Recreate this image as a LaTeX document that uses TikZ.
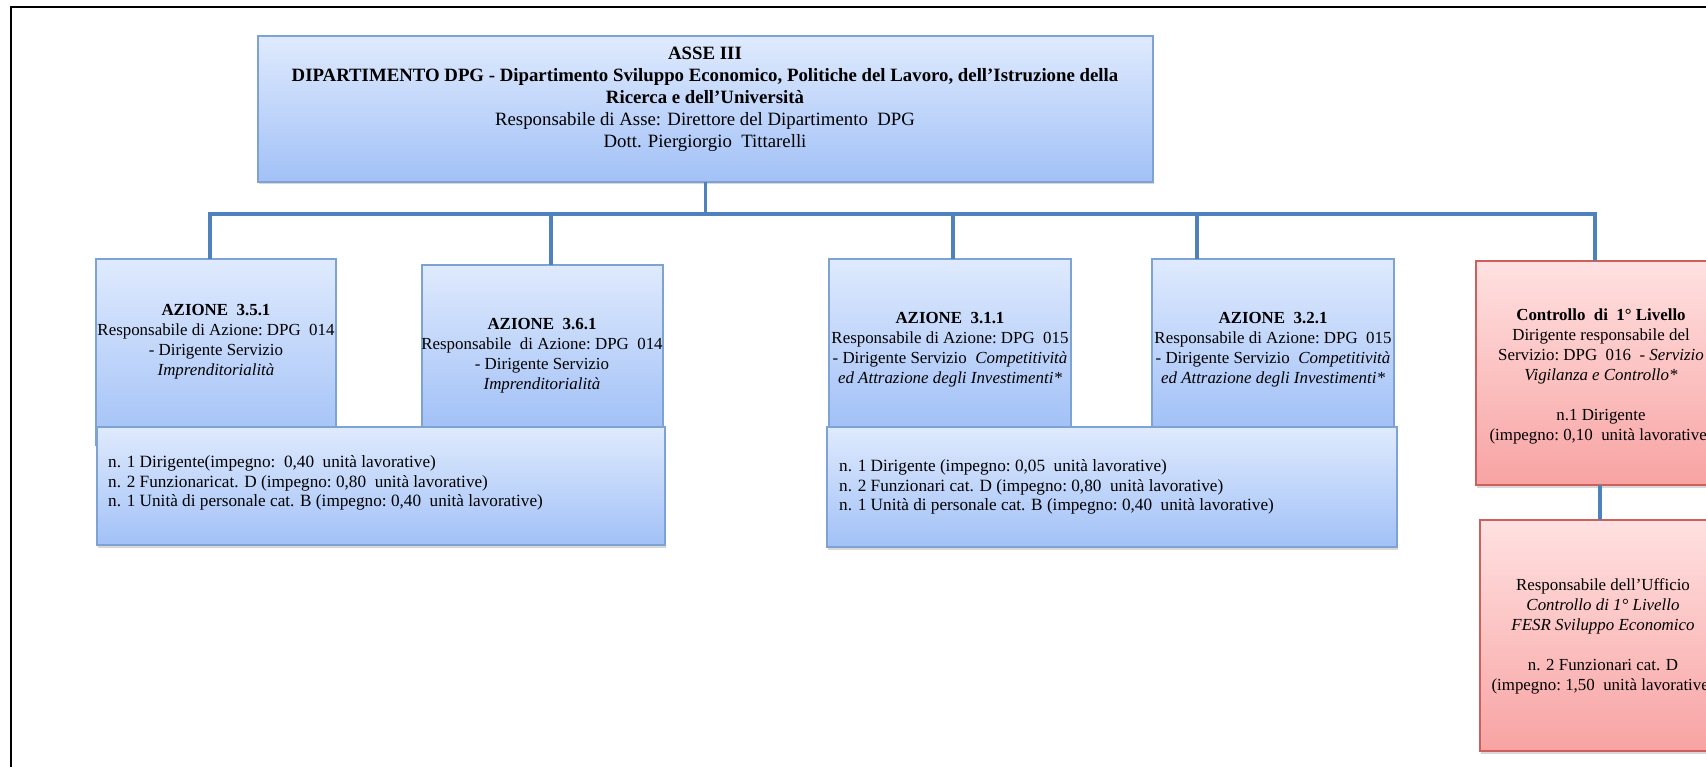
\documentclass[tikz,border=0pt]{standalone}
\usepackage{fontspec}
\setmainfont{Liberation Serif}
\usetikzlibrary{shadows}
\definecolor{bTop}{HTML}{DFEAFD}
\definecolor{bBot}{HTML}{A2C1F7}
\definecolor{bEdge}{HTML}{7EA3D3}
\definecolor{lnk}{HTML}{4F81BD}
\definecolor{rTop}{HTML}{FFE1E1}
\definecolor{rBot}{HTML}{F8A3A3}
\definecolor{rEdge}{HTML}{CD5F5C}
\begin{document}
\begin{tikzpicture}[x=1pt,y=-1pt,
  bluebox/.style={draw=bEdge, line width=1.3pt, top color=bTop, bottom color=bBot,
    inner sep=0pt, outer sep=0pt, anchor=north west,
    drop shadow={opacity=0.3, shadow xshift=1pt, shadow yshift=-2.5pt}},
  redbox/.style={bluebox, draw=rEdge, top color=rTop, bottom color=rBot},
  link/.style={draw=lnk, line width=3.5pt},
  bigtxt/.style={font=\fontsize{18.8}{22}\selectfont, align=center, inner sep=0pt},
  txt/.style={font=\fontsize{16.9}{20}\selectfont, align=center, inner sep=0pt},
  ltxt/.style={font=\fontsize{17.2}{19.5}\selectfont, align=left, inner sep=0pt, anchor=west}
]
\useasboundingbox (0,0) rectangle (1706,767);
\clip (0,0) rectangle (1706,767);
\fill[white] (0,0) rectangle (1706,767);
\draw[line width=1.5pt] (11,767) -- (11,7) -- (1706,7);

% boxes
\node[bluebox, minimum width=895pt, minimum height=146pt] (top) at (258,36) {};
\node[bluebox, minimum width=240pt, minimum height=186pt] (a351) at (96,259) {};
\node[bluebox, minimum width=241pt, minimum height=162pt] (a361) at (422,265) {};
\node[bluebox, minimum width=568pt, minimum height=118pt] (lowA) at (97,427) {};
\node[bluebox, minimum width=242pt, minimum height=168pt] (a311) at (829,259) {};
\node[bluebox, minimum width=242pt, minimum height=168pt] (a321) at (1152,259) {};
\node[bluebox, minimum width=570pt, minimum height=120pt] (lowB) at (827,427) {};
\node[redbox, minimum width=248pt, minimum height=224pt] (r1) at (1476,261) {};
\node[redbox, minimum width=244pt, minimum height=231pt] (r2) at (1480,520) {};

% connectors
\coordinate (hub) at (707,214);
\coordinate (hl) at (210,214);
\coordinate (d2) at (551,214);
\coordinate (d3) at (953,214);
\coordinate (d4) at (1197,214);
\coordinate (hr) at (1595,214);
\draw[link] (top.south) -- (top.south |- hub);
\draw[link, line cap=rect] (hl) -- (hr);
\draw[link] (hl) -- (hl |- a351.north);
\draw[link] (d2) -- (d2 |- a361.north);
\draw[link] (d3) -- (d3 |- a311.north);
\draw[link] (d4) -- (d4 |- a321.north);
\draw[link] (hr) -- (hr |- r1.north);
\draw[link] (r1.south) -- (r1.south |- r2.north);

% texts
\node[bigtxt] (ttop) at (705,99) {\textbf{ASSE III}\\
\textbf{DIPARTIMENTO DPG - Dipartimento Sviluppo Economico, Politiche del Lavoro, dell'Istruzione della}\\
\textbf{Ricerca e dell'Università}\\
Responsabile di Asse: Direttore del Dipartimento\ \ DPG\\
Dott. Piergiorgio\ \ Tittarelli};

\node[txt] (t351) at (216,342) {\textbf{AZIONE\ \ 3.5.1}\\Responsabile di Azione:\ DPG\ \ 014\\- Dirigente Servizio\\\textit{Imprenditorialità}};
\node[txt] (t361) at (542,356) {\textbf{AZIONE\ \ 3.6.1}\\Responsabile\ \ di Azione:\ DPG\ \ 014\\- Dirigente Servizio\\\textit{Imprenditorialità}};
\node[txt] (t311) at (950,350) {\textbf{AZIONE\ \ 3.1.1}\\Responsabile di Azione:\ DPG\ \ 015\\- Dirigente Servizio\ \ \textit{Competitività}\\\textit{ed Attrazione degli Investimenti*}};
\node[txt] (t321) at (1273,350) {\textbf{AZIONE\ \ 3.2.1}\\Responsabile di Azione:\ DPG\ \ 015\\- Dirigente Servizio\ \ \textit{Competitività}\\\textit{ed Attrazione degli Investimenti*}};

\node[ltxt] (tlowA) at (108,483) {n. 1 Dirigente(impegno:\ \ 0,40\ \ unità lavorative)\\n. 2 Funzionaricat. D (impegno:\ 0,80\ \ unità lavorative)\\n. 1 Unità di personale cat. B (impegno:\ 0,40\ \ unità lavorative)};
\node[ltxt] (tlowB) at (839,487) {n. 1 Dirigente\ (impegno:\ 0,05\ \ unità lavorative)\\n. 2 Funzionari\ cat. D (impegno:\ 0,80\ \ unità lavorative)\\n. 1 Unità\ di personale cat. B (impegno:\ 0,40\ \ unità lavorative)};

\node[txt] (tr1) at (1601,376) {\textbf{Controllo\ \ di\ \ 1° Livello}\\Dirigente\ responsabile del\\Servizio:\ DPG\ \ 016\ \ - \textit{Servizio}\\\textit{Vigilanza e Controllo*}\\[20pt]n.1 Dirigente\\(impegno:\ 0,10\ \ unità lavorative)};
\node[txt] (tr2) at (1603,636) {Responsabile dell'Ufficio\\\textit{Controllo di 1° Livello}\\\textit{FESR Sviluppo Economico}\\[20pt]n. 2 Funzionari\ cat. D\\(impegno:\ 1,50\ \ unità lavorative)};
\end{tikzpicture}
\end{document}
